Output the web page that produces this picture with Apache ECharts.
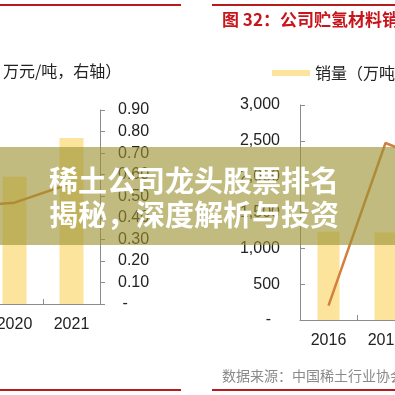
<!DOCTYPE html>
<html>
<head>
<meta charset="utf-8">
<script src="https://cdn.jsdelivr.net/npm/echarts@6/dist/echarts.min.js"></script>
<style>
html,body{margin:0;padding:0;background:#fff;overflow:hidden;width:395px;height:395px;}
#wrap{position:relative;width:395px;height:395px;overflow:hidden;}
#c{position:absolute;left:-71px;top:0;width:542px;height:395px;}
</style>
</head>
<body>
<div id="wrap"><div id="c"></div></div>
<script>
// Left chart (cropped): price chart, right axis in 万元/吨
var leftCategories = ['2019', '2020', '2021'];
var leftBarValues = [0.50, 0.59, 0.77];
var leftLineValues = [0.45, 0.47, 0.56];
var leftAxisTicks = [0, 0.9, 0.1]; // min, max, interval

// Right chart (cropped): 公司贮氢材料销量
var rightCategories = ['2016', '2017', '2018'];
var rightBarValues = [1230, 1220, 1300];
var rightLineValues = [200, 2470, 2150];
var rightAxisTicks = [0, 3000, 500];

var overlayTitle = ['稀土公司龙头股票排名', '揭秘，深度解析与投资'];

var OX = 71; // canvas is shifted left by this many pixels (cropped view)
var chart = echarts.init(document.getElementById('c'), null, {renderer: 'canvas'});
var NUM_FONT = 'Liberation Sans, Arial, sans-serif';
var CJK_FONT = '"Noto Sans CJK SC", sans-serif';
var axisGray = '#8c8c8c';
var barColor = '#fde49d';
var lineColor = '#d2803b';
var red = '#b71c1c';

var option = {
  animation: false,
  backgroundColor: '#ffffff',
  grid: [
    {left: 0, right: 371, top: 110, bottom: 91, containLabel: false},
    {left: 371, right: 0, top: 105, bottom: 75, containLabel: false}
  ],
  legend: {
    data: ['销量（万吨）'],
    left: 267 + OX, top: 60,
    icon: 'rect', itemWidth: 38, itemHeight: 6,
    textStyle: {fontSize: 16, color: '#222', fontFamily: CJK_FONT}
  },
  xAxis: [
    {
      type: 'category', gridIndex: 0, data: leftCategories,
      axisLine: {lineStyle: {color: axisGray, width: 1}},
      axisTick: {show: true, inside: true, length: 5, lineStyle: {color: axisGray}},
      axisLabel: {fontSize: 16, color: '#222', fontFamily: NUM_FONT, margin: 13, interval: 0}
    },
    {
      type: 'category', gridIndex: 1, data: rightCategories,
      axisLine: {lineStyle: {color: axisGray, width: 1}},
      axisTick: {show: true, inside: true, length: 5, lineStyle: {color: axisGray}},
      axisLabel: {fontSize: 16, color: '#222', fontFamily: NUM_FONT, margin: 13, interval: 0}
    }
  ],
  yAxis: [
    {
      type: 'value', gridIndex: 0, position: 'right',
      min: leftAxisTicks[0], max: leftAxisTicks[1], interval: leftAxisTicks[2],
      axisLine: {show: true, lineStyle: {color: axisGray}},
      axisTick: {show: true, inside: false, length: 5, lineStyle: {color: axisGray}},
      splitLine: {show: false},
      axisLabel: {
        fontSize: 16, color: '#222', fontFamily: NUM_FONT, margin: 18,
        formatter: function (v) { return v === 0 ? ' -' : v.toFixed(2); }
      }
    },
    {
      type: 'value', gridIndex: 1, position: 'left',
      min: rightAxisTicks[0], max: rightAxisTicks[1], interval: rightAxisTicks[2],
      axisLine: {show: true, lineStyle: {color: axisGray}},
      axisTick: {show: true, inside: true, length: 5, lineStyle: {color: axisGray}},
      splitLine: {show: false},
      axisLabel: {
        fontSize: 16, color: '#222', fontFamily: NUM_FONT, margin: 20,
        formatter: function (v) {
          return v === 0 ? '-  ' : v.toString().replace(/\B(?=(\d{3})+(?!\d))/g, ',');
        }
      }
    }
  ],
  series: [
    {name: '均价', type: 'bar', xAxisIndex: 0, yAxisIndex: 0, data: leftBarValues,
     barWidth: 24, itemStyle: {color: barColor}},
    {name: '价格（万元/吨，右轴）', type: 'line', xAxisIndex: 0, yAxisIndex: 0, data: leftLineValues,
     symbol: 'none', lineStyle: {color: lineColor, width: 2.5}},
    {name: '销量（万吨）', type: 'bar', xAxisIndex: 1, yAxisIndex: 1, data: rightBarValues,
     barWidth: 22, itemStyle: {color: barColor}},
    {name: '价格', type: 'line', xAxisIndex: 1, yAxisIndex: 1, data: rightLineValues,
     symbol: 'none', lineStyle: {color: lineColor, width: 2.5}}
  ],
  graphic: [
    {type: 'line', shape: {x1: OX, y1: 5, x2: OX + 181, y2: 5}, style: {stroke: red, lineWidth: 2}},
    {type: 'line', shape: {x1: OX + 212, y1: 5, x2: OX + 395, y2: 5}, style: {stroke: red, lineWidth: 2}},
    {type: 'line', shape: {x1: OX, y1: 390, x2: OX + 181, y2: 390}, style: {stroke: red, lineWidth: 2}},
    {type: 'line', shape: {x1: OX + 212, y1: 390, x2: OX + 395, y2: 390}, style: {stroke: red, lineWidth: 2}},
    {type: 'text', x: OX + 222, y: 11,
     style: {text: '图 32：公司贮氢材料销量', fill: '#c8141b', font: 'bold 17px ' + CJK_FONT}},
    {type: 'text', x: OX + 3, y: 63,
     style: {text: '万元/吨，右轴）', fill: '#222', font: '16px ' + CJK_FONT}},
    {type: 'text', x: OX + 222, y: 369,
     style: {text: '数据来源：中国稀土行业协会', fill: '#8a8a8a', font: '14px ' + CJK_FONT}},
    {type: 'rect', z: 100, shape: {x: OX, y: 147, width: 395, height: 98},
     style: {fill: 'rgba(155,145,50,0.62)'}},
    {type: 'text', z: 101, x: OX + 49, y: 181,
     style: {text: overlayTitle[0], fill: '#ffffff', font: 'bold 29px ' + CJK_FONT, verticalAlign: 'middle'}},
    {type: 'text', z: 101, x: OX + 49, y: 215,
     style: {text: overlayTitle[1], fill: '#ffffff', font: 'bold 29px ' + CJK_FONT, verticalAlign: 'middle'}}
  ]
};
chart.setOption(option);
</script>
</body>
</html>
